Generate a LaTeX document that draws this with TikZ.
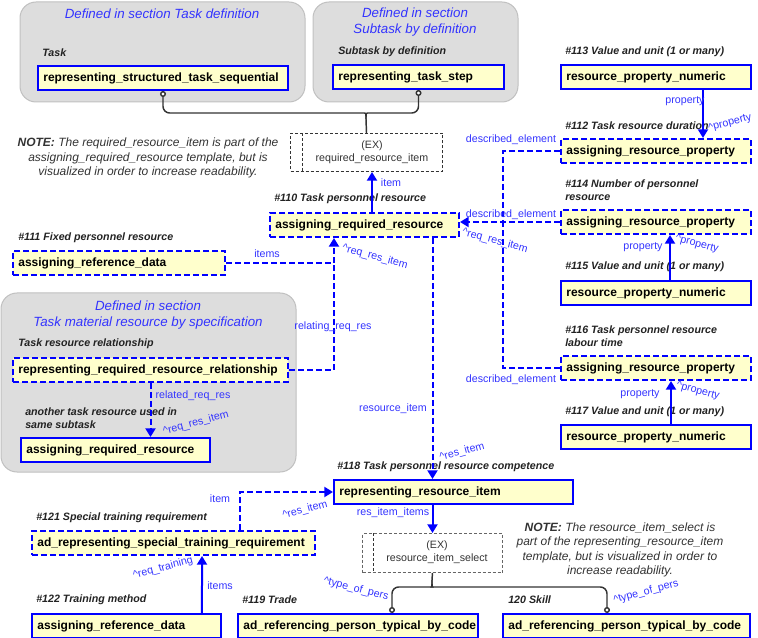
\documentclass[tikz,border=0pt]{standalone}
\usepackage{fontspec}
\setmainfont{Liberation Sans}
\usetikzlibrary{arrows.meta}
\definecolor{boxfill}{HTML}{FFFFCC}
\definecolor{bblue}{HTML}{0000FF}
\definecolor{lblue}{HTML}{3333FF}
\definecolor{grpfill}{HTML}{DDDDDD}
\definecolor{grpline}{HTML}{C0C0C0}
\definecolor{hdrgray}{HTML}{222222}
\definecolor{notegray}{HTML}{333333}
\begin{document}
\begin{tikzpicture}[x=0.75pt,y=-0.75pt]
    \tikzset{
    box/.style={draw=bblue, fill=boxfill, line width=1.5pt, anchor=north west, align=left, inner xsep=4pt, minimum height=18pt, font=\fontsize{9}{11}\selectfont\bfseries},
    dbox/.style={box, dash pattern=on 4.5pt off 2.25pt},
    hdr/.style={anchor=west, align=left, inner sep=0pt, text=hdrgray, font=\fontsize{8}{9.6}\selectfont\bfseries\itshape},
    lbl/.style={inner sep=0pt, text=lblue, font=\fontsize{8}{9.6}\selectfont},
    ttl/.style={align=center, text=lblue, font=\fontsize{10}{11.6}\selectfont\itshape},
    note/.style={align=center, text=notegray, font=\fontsize{9}{10.8}\selectfont\itshape},
    grp/.style={fill=grpfill, draw=grpline, line width=0.75pt, rounded corners=12pt},
    exb/.style={draw=black!80, dash pattern=on 2.25pt off 1.5pt, line width=0.75pt, anchor=north west},
    extx/.style={align=center, text=notegray, font=\fontsize{8}{9.75}\selectfont},
    brc/.style={draw=black!80, line width=1.1pt, {Circle[fill=white,length=4.5pt,width=4.5pt]}-},
    sl/.style={draw=bblue, line width=1.5pt},
    dl/.style={draw=bblue, line width=1.5pt, dash pattern=on 4.5pt off 2.25pt},
    arw/.style={-{Triangle[length=6.5pt,width=7.5pt]}},
    }
    \useasboundingbox (0,0) rectangle (758,638);

    % groups defined elsewhere
    \draw[grp] (20,2) rectangle (305,102);
    \draw[grp] (313,2) rectangle (518,102);
    \draw[grp] (1,293) rectangle (296,472);
    \node[ttl] (t1) at (162,14) {Defined in section Task definition};
    \node[ttl] (t2) at (415,22) {Defined in section\\Subtask by definition};
    \node[ttl] (t3) at (148,315) {Defined in section\\Task material resource by specification};

    % boxes
    \node[box, text width=179.5pt] (rstts) at (37,65) {representing\_structured\_task\_sequential};
    \node[box, text width=120.25pt] (rts) at (332,64) {representing\_task\_step};
    \node[box, text width=134.5pt] (rpn113) at (560,64) {resource\_property\_numeric};
    \node[dbox, text width=134.5pt] (arp112) at (560,138) {assigning\_resource\_property};
    \node[dbox, text width=134.5pt] (arp114) at (560,209) {assigning\_resource\_property};
    \node[box, text width=134.5pt] (rpn115) at (560,280) {resource\_property\_numeric};
    \node[dbox, text width=134.5pt] (arp116) at (560,355) {assigning\_resource\_property};
    \node[box, text width=134.5pt] (rpn117) at (560,424) {resource\_property\_numeric};
    \node[dbox, text width=133.75pt] (arr110) at (269,212) {assigning\_required\_resource};
    \node[dbox, text width=151pt] (ard111) at (12,250) {assigning\_reference\_data};
    \node[dbox, text width=198.25pt] (rrrr) at (12,357) {representing\_required\_resource\_relationship};
    \node[box, text width=133.75pt] (arro) at (20,437) {assigning\_required\_resource};
    \node[box, text width=171.25pt] (rri118) at (333,479) {representing\_resource\_item};
    \node[dbox, text width=204.25pt] (adr121) at (31,530) {ad\_representing\_special\_training\_requirement};
    \node[box, text width=133.75pt] (ard122) at (31,613) {assigning\_reference\_data};
    \node[box, text width=172pt] (adp119) at (237,613) {ad\_referencing\_person\_typical\_by\_code};
    \node[box, text width=177.25pt] (adp120) at (502,613) {ad\_referencing\_person\_typical\_by\_code};

    % EX boxes
    \node[exb, minimum width=114pt, minimum height=28.5pt] (ex1) at (290,133) {};
    \draw[exb] ([xshift=9pt]ex1.north west) -- ([xshift=9pt]ex1.south west);
    \node[extx] (extxt1) at (372,152) {(EX)\\required\_resource\_item};
    \node[exb, draw=black!60, minimum width=105pt, minimum height=29.25pt] (ex2) at (362,533) {};
    \draw[exb] ([xshift=8.25pt]ex2.north west) -- ([xshift=8.25pt]ex2.south west);
    \node[extx] (extxt2) at (437,552) {(EX)\\resource\_item\_select};

    % headers
    \node[hdr] (h1) at (42,53) {Task};
    \node[hdr] (h2) at (338,52) {Subtask by definition};
    \node[hdr] (h113) at (565,52) {\#113 Value and unit (1 or many)};
    \node[hdr] (h112) at (565,126) {\#112 Task resource duration};
    \node[hdr] (h114) at (565,190.5) {\#114 Number of personnel\\resource};
    \node[hdr] (h115) at (565,267) {\#115 Value and unit (1 or many)};
    \node[hdr] (h116) at (565,336) {\#116 Task personnel resource\\labour time};
    \node[hdr] (h117) at (565,412) {\#117 Value and unit (1 or many)};
    \node[hdr] (h110) at (274,199) {\#110 Task personnel resource};
    \node[hdr] (h111) at (18,238) {\#111 Fixed personnel resource};
    \node[hdr] (h3) at (18,344) {Task resource relationship};
    \node[hdr] (h4) at (25,418) {another task resource used in\\same subtask};
    \node[hdr] (h118) at (337,467) {\#118 Task personnel resource competence};
    \node[hdr] (h121) at (36,518) {\#121 Special training requirement};
    \node[hdr] (h122) at (36,600) {\#122 Training method};
    \node[hdr] (h119) at (242,600) {\#119 Trade};
    \node[hdr] (h120) at (508,600) {120 Skill};

    % notes
    \node[note] (note1) at (148,158) {\textbf{NOTE:} The required\_resource\_item is part of the\\assigning\_required\_resource template, but is\\visualized in order to increase readability.};
    \node[note] (note2) at (620,550) {\textbf{NOTE:} The resource\_item\_select is\\part of the representing\_resource\_item\\template, but is visualized in order to\\increase readability.};

    % select braces
    \coordinate (j1) at (366,119);
    \coordinate (j2) at (432,580);
    \draw[brc] (rstts.south) [rounded corners=5pt] |- (358,113) [sharp corners] .. controls (366,113) .. (j1) -- (ex1.north);
    \draw[brc] (rts.south) [rounded corners=5pt] |- (374,113) [sharp corners] .. controls (366,113) .. (j1);
    \draw[brc] ([xshift=116.25pt]adp119.north west) [rounded corners=5pt] |- (426,587) [sharp corners] .. controls (432,587) .. (j2) -- (ex2.south);
    \draw[brc] ([xshift=78.75pt]adp120.north west) [rounded corners=5pt] |- (438,587) [sharp corners] .. controls (432,587) .. (j2);

    % solid references
    \draw[sl, arw] (arr110.north -| extxt1) -- (ex1.south -| extxt1);
    \draw[sl, arw] ([xshift=35.25pt]rpn113.south) -- ([xshift=35.25pt]arp112.north);
    \draw[sl, arw] ([xshift=10.5pt]rpn115.north) -- ([xshift=10.5pt]arp114.south);
    \draw[sl, arw] ([xshift=11.25pt]rpn117.north) -- ([xshift=11.25pt]arp116.south);
    \draw[sl, arw] ([xshift=56.6pt]ard122.north) -- ([xshift=21.4pt]adr121.south);
    \draw[sl, arw] (rri118.south -| ex2.north) -- (ex2.north);

    % dashed references
    \coordinate (jd) at (503,220.5);
    \draw[dl, arw] (arp114.west) -- (arp114.west -| arr110.east);
    \draw[dl] (arp112.west) -| (jd);
    \draw[dl] (arp116.west) -| (jd);
    \draw[dl, arw] (ard111.east) -| ([xshift=-22.9pt]arr110.south) coordinate[pos=0.5] (jr);
    \draw[dl] (rrrr.east) -| (jr);
    \draw[dl, arw] (arr110.south -| ex2.north) -- (rri118.north -| ex2.north);
    \draw[dl, arw] ([xshift=49.9pt]adr121.north) |- (rri118.west);
    \draw[dl, arw] (rrrr.south) -- (rrrr.south |- arro.north);

    % role labels
    \node[lbl] (l1) at (685,101) {property};
    \node[lbl, rotate=15] (l2) at (730,123) {\textasciicircum property};
    \node[lbl] (l3) at (643,247) {property};
    \node[lbl, rotate=-15] (l4) at (697,244) {\textasciicircum property};
    \node[lbl] (l5) at (640,394) {property};
    \node[lbl, rotate=-15] (l6) at (698,391) {\textasciicircum property};
    \node[lbl] (l7) at (511,140) {described\_element};
    \node[lbl] (l8) at (511,215) {described\_element};
    \node[lbl] (l9) at (511,380) {described\_element};
    \node[lbl, rotate=-15] (l10) at (495,241) {\textasciicircum req\_res\_item};
    \node[lbl] (l11) at (391,183) {item};
    \node[lbl] (l12) at (267,254) {items};
    \node[lbl, rotate=-15] (l13) at (375,257) {\textasciicircum req\_res\_item};
    \node[lbl] (l14) at (333,327) {relating\_req\_res};
    \node[lbl] (l15) at (393,409) {resource\_item};
    \node[lbl, rotate=15] (l16) at (462,452) {\textasciicircum res\_item};
    \node[lbl] (l17) at (193,396) {related\_req\_res};
    \node[lbl, rotate=15] (l18) at (196,423) {\textasciicircum req\_res\_item};
    \node[lbl] (l19) at (220,499) {item};
    \node[lbl, rotate=15] (l20) at (305,510) {\textasciicircum res\_item};
    \node[lbl] (l21) at (393,513) {res\_item\_items};
    \node[lbl, rotate=15] (l22) at (163,568) {\textasciicircum req\_training};
    \node[lbl] (l23) at (220,586) {items};
    \node[lbl, rotate=-15] (l24) at (356,589) {\textasciicircum type\_of\_pers};
    \node[lbl, rotate=15] (l25) at (646,592) {\textasciicircum type\_of\_pers};
\end{tikzpicture}
\end{document}
